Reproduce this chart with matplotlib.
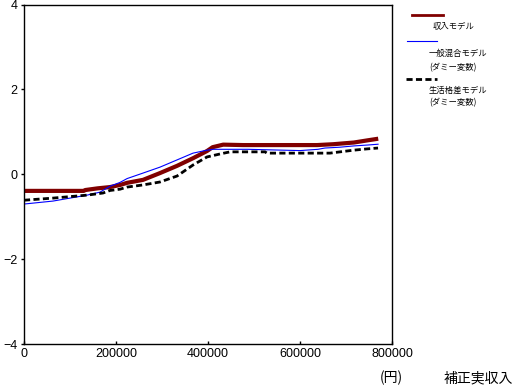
import matplotlib.pyplot as plt
from matplotlib.lines import Line2D

plt.rcParams['font.family'] = ['Liberation Sans', 'Noto Sans CJK JP', 'DejaVu Sans']

# 収入モデル (red)
red_x = [0, 130000, 133000, 160000, 187000, 209000, 224000, 258700, 295600, 332600,
         367400, 397800, 410000, 433000, 476000, 637000, 672000, 717000, 746000, 770000]
red_y = [-0.39, -0.39, -0.37, -0.33, -0.30, -0.25, -0.20, -0.13, 0.03, 0.20,
         0.38, 0.55, 0.64, 0.70, 0.69, 0.69, 0.71, 0.75, 0.80, 0.84]

# 一般混合モデル (ダミー変数) (blue)
blue_x = [0, 63000, 100000, 137000, 165000, 187000, 208700, 224000, 258700, 295600,
          332600, 367400, 397800, 411000, 487000, 600000, 639000, 654000, 687000,
          717000, 745600, 769600]
blue_y = [-0.70, -0.63, -0.56, -0.49, -0.42, -0.28, -0.19, -0.10, 0.03, 0.17,
          0.34, 0.50, 0.57, 0.59, 0.59, 0.56, 0.59, 0.62, 0.64, 0.67, 0.69, 0.71]

# 生活格差モデル (ダミー変数) (black dashed)
dash_x = [0, 63000, 137000, 171700, 187000, 208700, 224000, 258700, 295600, 332600,
          367400, 397800, 426000, 447800, 524000, 528000, 665000, 687000, 717000,
          745600, 769600]
dash_y = [-0.61, -0.56, -0.49, -0.44, -0.38, -0.35, -0.30, -0.25, -0.18, -0.04,
          0.22, 0.41, 0.48, 0.53, 0.53, 0.50, 0.50, 0.53, 0.57, 0.60, 0.62]

xticks = [0, 200000, 400000, 600000, 800000]
yticks = [-4, -2, 0, 2, 4]

fig = plt.figure(figsize=(5.2, 3.87), dpi=100)
ax = fig.add_axes([0.0462, 0.111, 0.7077, 0.877])

ax.plot(red_x, red_y, color='#800000', lw=3.0, solid_capstyle='butt')
ax.plot(blue_x, blue_y, color='#0000ff', lw=0.8)
ax.plot(dash_x, dash_y, color='black', lw=2.0, linestyle=(0, (2.2, 1.2)))

ax.set_xlim(0, 800000)
ax.set_ylim(-4, 4)
ax.set_xticks(xticks)
ax.set_xticklabels([str(v) for v in xticks])
ax.set_yticks(yticks)
ax.set_yticklabels([str(v).replace('-', '\u2212') for v in yticks])
ax.tick_params(axis='x', direction='in', length=2, width=1, pad=3, labelsize=9)
ax.tick_params(axis='y', direction='out', length=2.5, width=1, pad=2, labelsize=9)
for s in ax.spines.values():
    s.set_linewidth(1.0)

# legend drawn by hand outside the axes
W, H = 520, 387
def fx(px):
    return px / W
def fy(py):
    return 1 - py / H

jp = ['Noto Sans CJK JP', 'DejaVu Sans']
fig.add_artist(Line2D([fx(412), fx(443)], [fy(14.5), fy(14.5)], color='#800000', lw=2.0))
fig.text(fx(433), fy(26), '収入モデル', fontsize=6, family=jp, va='center')
fig.add_artist(Line2D([fx(407), fx(437)], [fy(40.7), fy(40.7)], color='#0000ff', lw=0.8))
fig.text(fx(429), fy(53), '一般混合モデル', fontsize=6, family=jp, va='center')
fig.text(fx(429), fy(68), '(ダミー変数)', fontsize=6, family=jp, va='center')
fig.add_artist(Line2D([fx(406), fx(437)], [fy(79), fy(79)], color='black', lw=2.0,
                      linestyle=(0, (2.2, 1.2))))
fig.text(fx(429), fy(90), '生活格差モデル', fontsize=6, family=jp, va='center')
fig.text(fx(429), fy(103), '(ダミー変数)', fontsize=6, family=jp, va='center')

fig.text(fx(391), fy(378), '(円)', fontsize=10, family=jp, ha='center', va='center')
fig.text(fx(478), fy(378), '補正実収入', fontsize=10, family=jp, ha='center', va='center')

fig.savefig('out.png', dpi=100)
